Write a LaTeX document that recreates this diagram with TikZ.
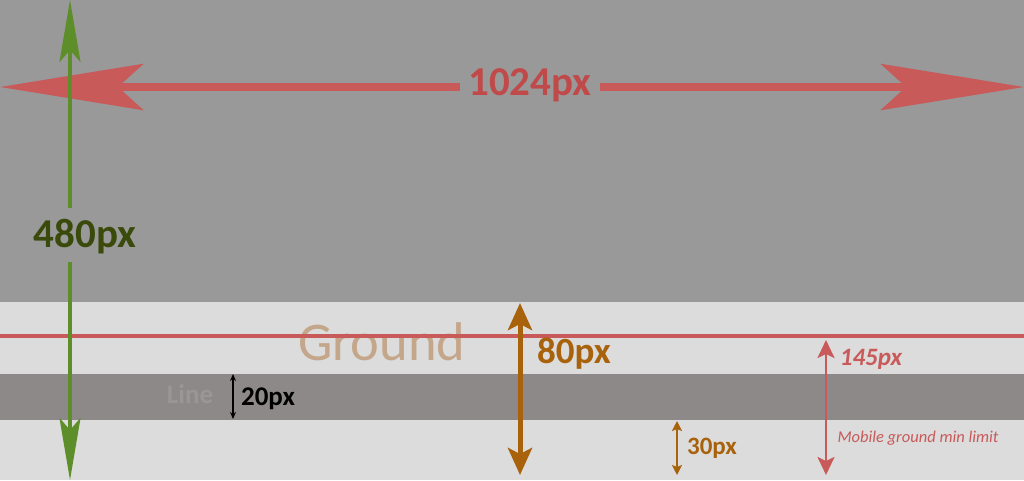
\documentclass[tikz,border=0pt]{standalone}
\usepackage{fontspec}
\setmainfont{Carlito}
\usetikzlibrary{arrows.meta}
\definecolor{skygrey}{HTML}{999999}
\definecolor{groundgrey}{HTML}{DCDCDC}
\definecolor{bandgrey}{HTML}{8E8989}
\definecolor{dimred}{HTML}{C85A5A}
\definecolor{dimredtext}{HTML}{C04A4A}
\definecolor{dimgreen}{HTML}{5E8E2A}
\definecolor{dimgreentext}{HTML}{394A0B}
\definecolor{dimorange}{HTML}{A8620C}
\definecolor{linetext}{HTML}{9B9595}
\definecolor{groundtext}{HTML}{C4A68A}

\begin{document}
\begin{tikzpicture}[
    x=1pt, y=-1pt,
    label/.style={anchor=base, inner sep=0pt},
    bigfont/.style={font=\fontsize{41}{41}\selectfont\bfseries},
    midfont/.style={font=\fontsize{37}{37}\selectfont\bfseries},
    smallfont/.style={font=\fontsize{27}{27}\selectfont\bfseries},
    tinyfont/.style={font=\fontsize{25}{25}\selectfont\bfseries}
]
\useasboundingbox (0,0) rectangle (1024,480);

% Backgrounds
\fill[skygrey] (0,0) rectangle (1024,302);
\fill[groundgrey] (0,302) rectangle (1024,480);
\fill[bandgrey] (0,374) rectangle (1024,420);

% Ground
\node[label, text=groundtext, font=\fontsize{54.5}{54.5}\selectfont] (ground) at (382,360) {Ground};
\coordinate (limitL) at (0,336);
\coordinate (limitR) at (1024,336);
\draw[dimred, line width=4pt] (limitL) -- (limitR);

% Width
\coordinate (widthL) at (0,87);
\coordinate (widthR) at (1024,87);
\draw[dimred, line width=8pt, {Stealth[length=143pt, width=46pt, inset=25pt]}-{Stealth[length=143pt, width=46pt, inset=25pt]}]
    (widthL) -- (widthR);
\node[label, bigfont, text=dimredtext, fill=skygrey, inner xsep=8pt, inner ysep=0pt] (width) at (530,95) {\strut1024px};

% Height
\coordinate (heightT) at (70,0);
\coordinate (heightB) at (70,480);
\draw[dimgreen, line width=3.5pt, {Stealth[length=62pt, width=21pt, inset=12pt]}-{Stealth[length=62pt, width=21pt, inset=12pt]}]
    (heightT) -- (heightB);
\fill[skygrey] (60,208) rectangle (80,262);
\node[label, bigfont, text=dimgreentext] (height) at (85,247) {480px};

% Line
\node[label, smallfont, text=linetext] (line) at (190,403) {Line};
\coordinate (lineT) at (233,374);
\coordinate (lineB) at (233,419);
\draw[black, line width=1.3pt, {Stealth[length=7pt, width=6pt]}-{Stealth[length=7pt, width=6pt]}] (lineT) -- (lineB);
\node[label, smallfont, text=black] (linedim) at (268,405) {20px};

% Ground height
\coordinate (groundT) at (520,303);
\coordinate (groundB) at (520,475);
\draw[dimorange, line width=5pt, {Stealth[length=27pt, width=24pt, inset=6pt]}-{Stealth[length=27pt, width=24pt, inset=6pt]}] (groundT) -- (groundB);
\node[label, midfont, text=dimorange] (grounddim) at (574,363) {80px};

% Bottom margin
\coordinate (marginT) at (677,421);
\coordinate (marginB) at (677,475);
\draw[dimorange, line width=2.5pt, {Stealth[length=10pt, width=10pt, inset=2pt]}-{Stealth[length=10pt, width=10pt, inset=2pt]}] (marginT) -- (marginB);
\node[label, tinyfont, text=dimorange] (margindim) at (712,454) {30px};

% Mobile limit
\coordinate (mobileT) at (826,340);
\coordinate (mobileB) at (826,475);
\draw[dimred, line width=2.5pt, {Stealth[length=18pt, width=17pt, inset=4pt]}-{Stealth[length=18pt, width=17pt, inset=4pt]}] (mobileT) -- (mobileB);
\node[label, tinyfont, text=dimred, font=\fontsize{25}{25}\selectfont\bfseries\itshape] (mobiledim) at (871,365) {145px};
\node[label, text=dimred, font=\fontsize{16.5}{16.5}\selectfont\itshape] (mobile) at (918,442) {Mobile ground min limit};
\end{tikzpicture}
\end{document}
